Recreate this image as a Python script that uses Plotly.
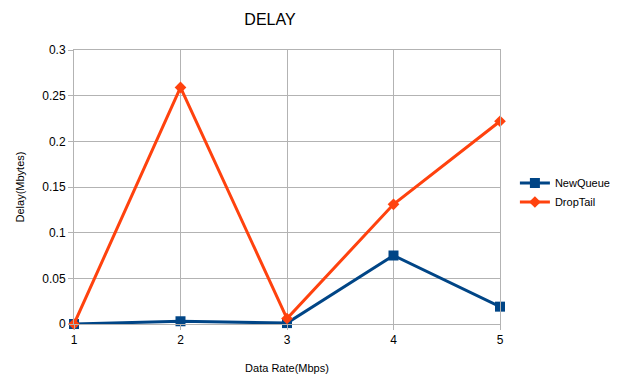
import plotly.graph_objects as go

# Data rate (Mbps) against measured delay (Mbytes)
data_rate = [1, 2, 3, 4, 5]
new_queue = [0.0, 0.003, 0.001, 0.075, 0.019]
drop_tail = [0.0, 0.259, 0.006, 0.131, 0.222]
y_ticks = [0, 0.05, 0.1, 0.15, 0.2, 0.25, 0.3]
y_tick_labels = ["0", "0.05", "0.1", "0.15", "0.2", "0.25", "0.3"]

FONT = "Liberation Sans, Arial, sans-serif"
GRID = "#b3b3b3"

fig = go.Figure()
fig.add_trace(go.Scatter(
    x=data_rate, y=new_queue, name="NewQueue", mode="lines+markers",
    line=dict(color="#004586", width=3),
    marker=dict(symbol="square", size=10, color="#004586"),
    cliponaxis=False,
))
fig.add_trace(go.Scatter(
    x=data_rate, y=drop_tail, name="DropTail", mode="lines+markers",
    line=dict(color="#ff420e", width=3),
    marker=dict(symbol="diamond", size=9, color="#ff420e"),
    cliponaxis=False,
))

fig.update_layout(
    width=618, height=374,
    margin=dict(l=74, r=118, t=50, b=50, autoexpand=False),
    paper_bgcolor="white", plot_bgcolor="white",
    font=dict(family=FONT, size=12, color="#000000"),
    title=dict(text="DELAY", x=270 / 618, xanchor="center", y=1 - 19 / 374,
               yanchor="middle", font=dict(size=16, family=FONT)),
    showlegend=True,
    legend=dict(x=1.035, y=0.48, xanchor="left", yanchor="middle",
                font=dict(size=11, family=FONT), tracegroupgap=0,
                itemwidth=30, bgcolor="rgba(0,0,0,0)"),
    xaxis=dict(
        range=[1, 5], tickvals=data_rate, showgrid=True, gridcolor=GRID,
        gridwidth=1, zeroline=False, showline=True, linecolor=GRID,
        mirror=True, ticks="outside", ticklen=5, tickcolor=GRID,
        automargin=False, tickfont=dict(size=12),
        title=dict(text="Data Rate(Mbps)", font=dict(size=11), standoff=18),
    ),
    yaxis=dict(
        range=[0, 0.3], tickvals=y_ticks, ticktext=y_tick_labels,
        showgrid=True, gridcolor=GRID, gridwidth=1, zeroline=False,
        showline=True, linecolor=GRID, mirror=True, ticks="outside",
        ticklen=5, tickcolor=GRID, tickfont=dict(size=12), automargin=False,
        title=dict(text="Delay(Mbytes)", font=dict(size=11), standoff=15),
    ),
)

fig.write_html("out.html")
